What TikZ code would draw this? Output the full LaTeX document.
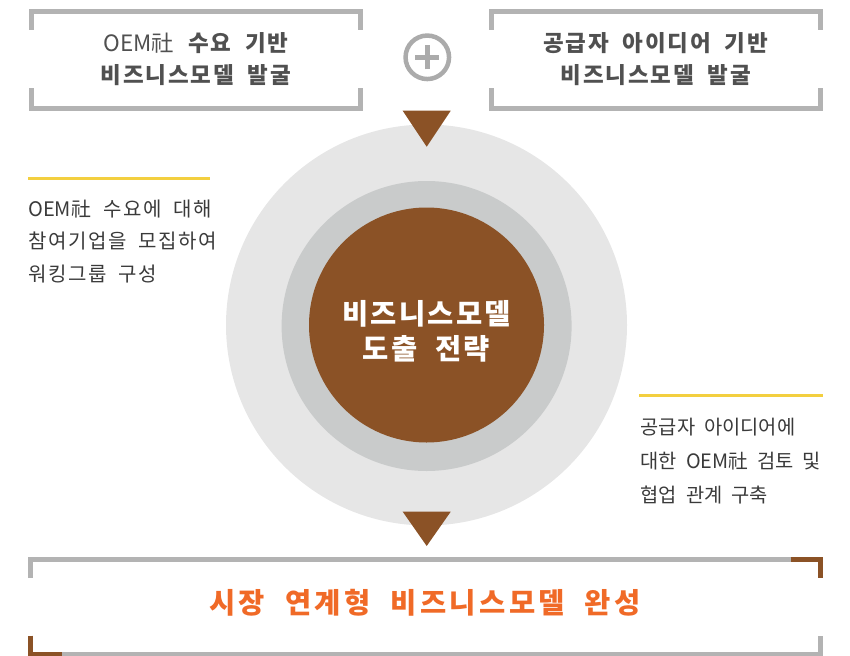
\documentclass[tikz,border=0pt]{standalone}
\usepackage{fontspec}
\setmainfont{Noto Sans CJK KR}[WordSpace=2,LetterSpace=8]
\newfontfamily\plainf{Noto Sans CJK KR}[WordSpace=2]
\newfontfamily\widef{Noto Sans CJK KR}[WordSpace=2,LetterSpace=12]
\definecolor{outerc}{HTML}{E6E6E6}
\definecolor{midc}{HTML}{C9CBCB}
\definecolor{brownc}{HTML}{8B5226}
\definecolor{brackc}{HTML}{B3B3B3}
\definecolor{plusc}{HTML}{ABABAB}
\definecolor{orangec}{HTML}{F06A27}
\definecolor{yellowc}{HTML}{F3CF3F}
\definecolor{topgray}{HTML}{505050}
\definecolor{bodygray}{HTML}{3A3A3A}
\tikzset{
  bracket/.style={draw=brackc, line width=5pt, line join=miter},
  accent/.style={draw=brownc, line width=5pt, line join=miter},
  disc/.style={circle, inner sep=0pt, draw=none},
  toptext/.style={font=\fontsize{22.5}{32}\selectfont\bfseries, text=topgray, align=center},
  sidetext/.style={font=\fontsize{20}{32.5}\selectfont, text=bodygray, align=left, anchor=west, inner sep=0pt},
  yline/.style={draw=yellowc, line width=3pt},
}
\begin{document}
\begin{tikzpicture}[x=1pt,y=-1pt]
\useasboundingbox (0,0) rectangle (850,655);
% top brackets
\draw[bracket] (31,30) -- (31,11.7) -- (360.8,11.7) -- (360.8,30);
\draw[bracket] (31,88.3) -- (31,108.5) -- (360.8,108.5) -- (360.8,88.3);
\draw[bracket] (491,30) -- (491,11.7) -- (820.5,11.7) -- (820.5,30);
\draw[bracket] (491,88.3) -- (491,108.5) -- (820.5,108.5) -- (820.5,88.3);
\node[toptext] (tl) at (196,59.2) {{\plainf\mdseries OEM社} 수요 기반\\비즈니스모델 발굴};
\node[toptext] (tr) at (655.7,59.2) {공급자 아이디어 기반\\비즈니스모델 발굴};
% plus sign
\node[disc, draw=plusc, line width=4.5pt, minimum size=43.5pt] (plus) at (427.3,57.3) {};
\draw[plusc, line width=4.8pt] ([xshift=-12pt]plus.center) -- ([xshift=12pt]plus.center);
\draw[plusc, line width=4.8pt] ([yshift=-12pt]plus.center) -- ([yshift=12pt]plus.center);
% circles
\node[disc, fill=outerc, minimum size=401pt] (outer) at (426.5,325) {};
\node[disc, fill=midc, minimum size=290pt] (mid) at (426.6,326) {};
\node[disc, fill=brownc, minimum size=235pt] (core) at (426.5,325) {};
\node[font=\fontsize{28.5}{35}\selectfont\bfseries, text=white, align=center] (coretext) at (426.5,331) {비즈니스모델\\도출 전략};
% triangles
\fill[brownc] (402.7,110.7) -- (450.7,110.7) -- (426.7,146.7) -- cycle;
\fill[brownc] (402.7,511.7) -- (450.7,511.7) -- (426.7,546) -- cycle;
% side texts
\draw[yline] (28,178.5) -- (210,178.5);
\node[sidetext] (lt) at (28,241.3) {{\plainf OEM社} 수요에 대해\\참여기업을 모집하여\\워킹그룹 구성};
\draw[yline] (639,395) -- (823,395);
\node[sidetext, font=\plainf\fontsize{19.8}{34}\selectfont] (rt) at (640.5,461) {공급자 아이디어에\\대한 OEM社 검토 및\\협업 관계 구축};
% bottom bracket
\draw[bracket] (30.7,578) -- (30.7,559) -- (820,559) -- (820,578);
\draw[bracket] (30.7,635.7) -- (30.7,654.5) -- (820,654.5) -- (820,635.7);
\draw[accent] (790.7,559) -- (820,559) -- (820,578);
\draw[accent] (30.7,635.7) -- (30.7,654.5) -- (61.7,654.5);
\node[font=\widef\fontsize{28.5}{32}\selectfont\bfseries, text=orangec] (final) at (425,603) {시장 연계형 비즈니스모델 완성};
\end{tikzpicture}
\end{document}
